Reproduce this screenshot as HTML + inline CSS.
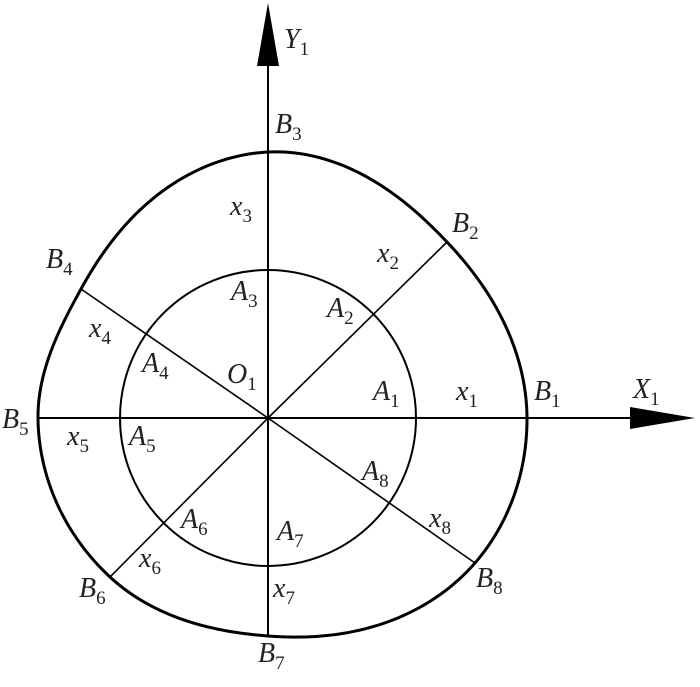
<!DOCTYPE html>
<html><head><meta charset="utf-8"><style>
html,body{margin:0;padding:0;background:#fff;}
svg text{font-family:"Liberation Serif",serif;font-style:italic;font-size:28px;fill:#222;}
svg tspan.s{font-style:normal;font-size:19px;}
</style></head><body>
<svg width="700" height="682" viewBox="0 0 700 682" xmlns="http://www.w3.org/2000/svg">
<g stroke="#000" fill="none">
<path id="outer" stroke-width="3" d=""/>
<circle cx="268" cy="418" r="148" stroke-width="2"/>
<line x1="268" y1="60" x2="268" y2="636" stroke-width="2"/>
<line x1="38" y1="418" x2="635" y2="418" stroke-width="2"/>
<line x1="268" y1="418" x2="447" y2="242" stroke-width="1.6"/>
<line x1="268" y1="418" x2="110" y2="577" stroke-width="1.6"/>
<line x1="268" y1="418" x2="81" y2="289" stroke-width="1.6"/>
<line x1="268" y1="418" x2="475" y2="563" stroke-width="1.6"/>
</g>
<polygon points="268,3 257,66 279,66" fill="#000"/>
<polygon points="695,418 630,407 630,429" fill="#000"/>
<text x="284" y="48">Y<tspan class="s" dy="7">1</tspan></text>
<text x="633" y="398">X<tspan class="s" dy="7">1</tspan></text>
<text x="275" y="133">B<tspan class="s" dy="7">3</tspan></text>
<text x="452" y="232">B<tspan class="s" dy="7">2</tspan></text>
<text x="534" y="400">B<tspan class="s" dy="7">1</tspan></text>
<text x="46" y="268">B<tspan class="s" dy="7">4</tspan></text>
<text x="2" y="428">B<tspan class="s" dy="7">5</tspan></text>
<text x="79" y="597">B<tspan class="s" dy="7">6</tspan></text>
<text x="258" y="662">B<tspan class="s" dy="7">7</tspan></text>
<text x="476" y="587">B<tspan class="s" dy="7">8</tspan></text>
<text x="230" y="215">x<tspan class="s" dy="7">3</tspan></text>
<text x="377" y="262">x<tspan class="s" dy="7">2</tspan></text>
<text x="456" y="400">x<tspan class="s" dy="7">1</tspan></text>
<text x="89" y="337">x<tspan class="s" dy="7">4</tspan></text>
<text x="67" y="445">x<tspan class="s" dy="7">5</tspan></text>
<text x="139" y="567">x<tspan class="s" dy="7">6</tspan></text>
<text x="273" y="597">x<tspan class="s" dy="7">7</tspan></text>
<text x="429" y="527">x<tspan class="s" dy="7">8</tspan></text>
<text x="231" y="300">A<tspan class="s" dy="7">3</tspan></text>
<text x="327" y="317">A<tspan class="s" dy="7">2</tspan></text>
<text x="373" y="400">A<tspan class="s" dy="7">1</tspan></text>
<text x="142" y="372">A<tspan class="s" dy="7">4</tspan></text>
<text x="227" y="383">O<tspan class="s" dy="7">1</tspan></text>
<text x="129" y="445">A<tspan class="s" dy="7">5</tspan></text>
<text x="362" y="480">A<tspan class="s" dy="7">8</tspan></text>
<text x="181" y="528">A<tspan class="s" dy="7">6</tspan></text>
<text x="277" y="540">A<tspan class="s" dy="7">7</tspan></text>
</svg>
<script>
(function(){
var cx=268,cy=418;
var P=[[527,418],[447,242],[268,152],[81,289],[38,418],[110,577],[268,636],[475,563]];
var A=[],R=[];
for(var i=0;i<P.length;i++){var dx=P[i][0]-cx,dy=cy-P[i][1];var a=Math.atan2(dy,dx);if(a<0)a+=2*Math.PI;A.push(a);R.push(Math.sqrt(dx*dx+dy*dy));}
var n=P.length;
function ang(i){var k=((i%n)+n)%n;var off=Math.floor(i/n)*2*Math.PI;return A[k]+off;}
function rad(i){return R[((i%n)+n)%n];}
var d="";var first=true;
for(var i=0;i<n;i++){
 var t0=ang(i-1),t1=ang(i),t2=ang(i+1),t3=ang(i+2);
 var r0=rad(i-1),r1=rad(i),r2=rad(i+1),r3=rad(i+2);
 var h=t2-t1;
 var m1=(r2-r0)/(t2-t0)*h, m2=(r3-r1)/(t3-t1)*h;
 for(var s=0;s<=40;s++){
  if(s==0&&!first)continue;
  var u=s/40,u2=u*u,u3=u2*u;
  var r=(2*u3-3*u2+1)*r1+(u3-2*u2+u)*m1+(-2*u3+3*u2)*r2+(u3-u2)*m2;
  var th=t1+u*h;
  var x=cx+r*Math.cos(th),y=cy-r*Math.sin(th);
  d+=(first?"M":"L")+x.toFixed(2)+","+y.toFixed(2)+" ";first=false;
 }
}
d+="Z";
document.getElementById("outer").setAttribute("d",d);
})();
</script>
</body></html>
